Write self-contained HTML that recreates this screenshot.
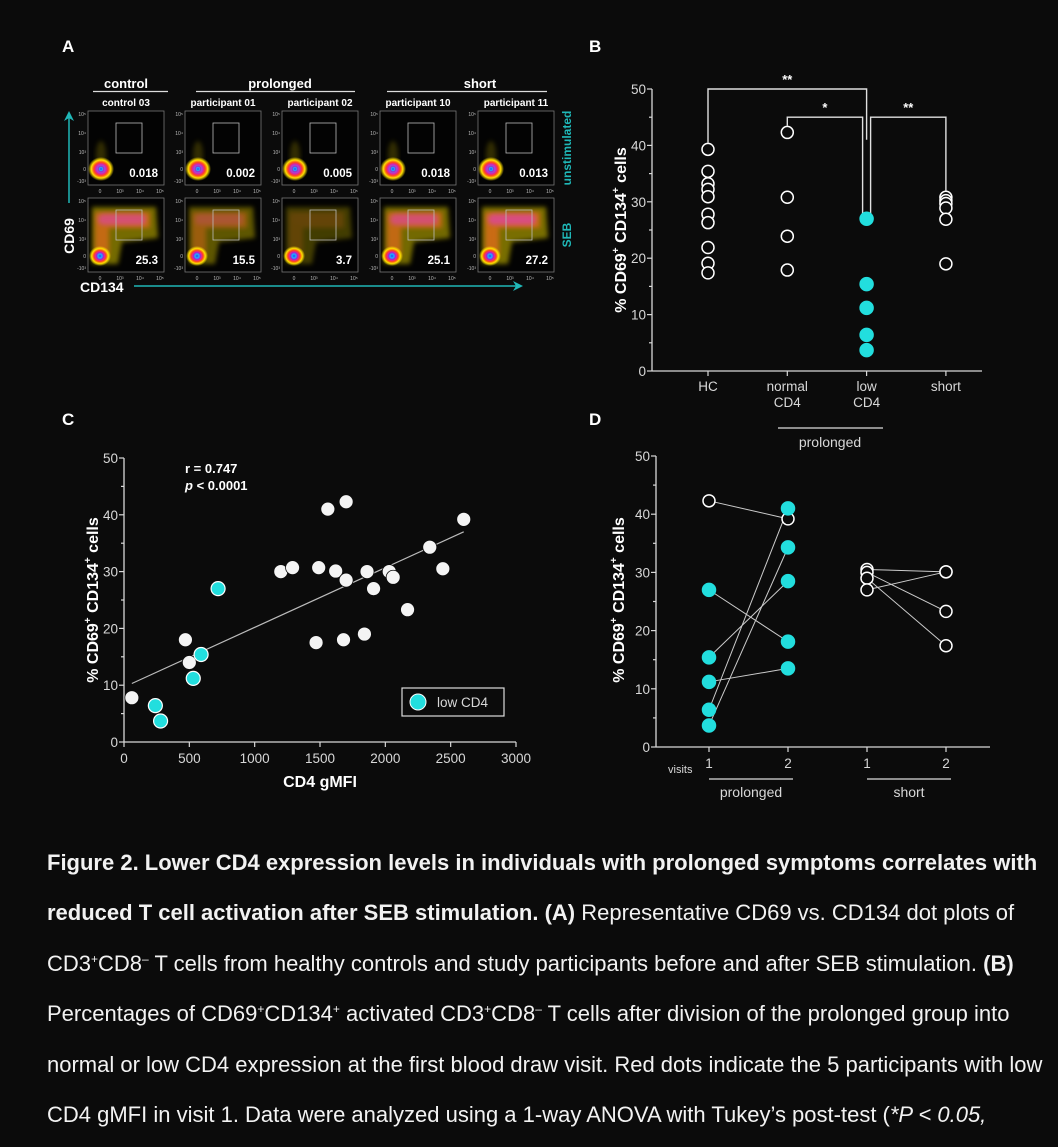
<!DOCTYPE html>
<html><head><meta charset="utf-8">
<style>
html,body{margin:0;padding:0;background:#0b0b0b;}
body{width:1058px;height:1147px;position:relative;overflow:hidden;font-family:"Liberation Sans",Arial,sans-serif;color:#fff;}
svg{position:absolute;left:0;top:0;}
.cap{position:absolute;left:47px;white-space:nowrap;font-size:22px;color:#f2f2f2;line-height:1;}
.cap b{font-weight:bold;}
sup{font-size:12px;vertical-align:8px;line-height:0;}
</style></head>
<body>
<svg id="fig" width="1058" height="840" viewBox="0 0 1058 840">
<defs>
<radialGradient id="blobG"><stop offset="0" stop-color="#3030ff"/><stop offset="0.2" stop-color="#40a0ff"/><stop offset="0.38" stop-color="#d020c0"/><stop offset="0.55" stop-color="#ff4020"/><stop offset="0.75" stop-color="#ffe000"/><stop offset="1" stop-color="#ffe000" stop-opacity="0"/></radialGradient>
<radialGradient id="coreG"><stop offset="0" stop-color="#2040ff"/><stop offset="0.4" stop-color="#20b0ff"/><stop offset="0.7" stop-color="#a020d0"/><stop offset="1" stop-color="#ff3060" stop-opacity="0"/></radialGradient>
<filter id="bl" x="-30%" y="-30%" width="160%" height="160%"><feGaussianBlur stdDeviation="2.5"/></filter>
<marker id="arr" markerWidth="10" markerHeight="10" refX="8" refY="5" orient="auto" markerUnits="userSpaceOnUse"><path d="M0,0 L10,5 L0,10 L3,5 Z" fill="#20b8b8"/></marker>
</defs>
<g id="panelA"></g>
<g id="panelB"></g>
<g id="panelC"></g>
<g id="panelD"></g>
</svg>

<div class="cap" style="top:852px"><b>Figure 2. Lower CD4 expression levels in individuals with prolonged symptoms correlates with</b></div>
<div class="cap" style="top:902px"><b>reduced T cell activation after SEB stimulation. (A)</b> Representative CD69 vs. CD134 dot plots of</div>
<div class="cap" style="top:953px">CD3<sup>+</sup>CD8<sup>–</sup> T cells from healthy controls and study participants before and after SEB stimulation. <b>(B)</b></div>
<div class="cap" style="top:1003px">Percentages of CD69<sup>+</sup>CD134<sup>+</sup> activated CD3<sup>+</sup>CD8<sup>–</sup> T cells after division of the prolonged group into</div>
<div class="cap" style="top:1054px">normal or low CD4 expression at the first blood draw visit. Red dots indicate the 5 participants with low</div>
<div class="cap" style="top:1104px">CD4 gMFI in visit 1. Data were analyzed using a 1-way ANOVA with Tukey’s post-test (<i>*P &lt; 0.05,</i></div>

<script>
// ---------- data ----------
const facsGroups = ['control','prolonged','short'];
const facsSamples = ['control 03','participant 01','participant 02','participant 10','participant 11'];
const facsUnstim = ['0.018','0.002','0.005','0.018','0.013'];
const facsSEB = ['25.3','15.5','3.7','25.1','27.2'];
const facsActivation = [25.3,15.5,3.7,25.1,27.2];

const bCategories = ['HC','normal CD4','low CD4','short'];
const bHC = [39.3,35.4,33.2,32.2,30.9,27.8,26.3,21.9,19.1,17.4];
const bNormal = [42.3,30.8,23.9,17.9];
const bLow = [27.0,15.4,11.2,6.4,3.7];
const bShort = [30.8,30.2,29.7,28.9,26.9,19.0];
const yTicks = [0,10,20,30,40,50];

const cWhiteX = [60,470,500,1200,1290,1490,1560,1620,1700,1700,1470,1680,1840,1860,1910,2030,2060,2170,2340,2440,2600];
const cWhiteY = [7.8,18,14,30,30.7,30.7,41,30.1,42.3,28.5,17.5,18,19,30,27,30,29,23.3,34.3,30.5,39.2];
const cLowX = [240,280,530,590,720];
const cLowY = [6.4,3.7,11.2,15.4,27];
const cFitX = [60,2600];
const cFitY = [10.3,37.0];
const cXTicks = [0,500,1000,1500,2000,2500,3000];

const dProlV1 = [42.3,27.0,15.4,11.2,6.4,3.7];
const dProlV2 = [39.2,18.1,28.5,13.5,41.0,34.3];
const dProlLow = [false,true,true,true,true,true];
const dProlV2Low = [false,true,true,true,true,true];
const dShortV1 = [30.5,30.0,29.0,27.0];
const dShortV2 = [30.1,23.3,17.4,30.1];

const NS='http://www.w3.org/2000/svg';
function mk(parent,tag,attrs,text){const e=document.createElementNS(NS,tag);for(const k in attrs)e.setAttribute(k,attrs[k]);if(text!==undefined)e.textContent=text;parent.appendChild(e);return e;}
const CY='#22dede', GR='#d8d8d8';

// ---------- Panel A ----------
(function(){
const g=document.getElementById('panelA');
let t=mk(g,'text',{x:62,y:52,'font-size':17,'font-weight':'bold',fill:'#fff'},'A');

const groupSpan=[[93,168,126],[196,355,280],[387,547,480]];
facsGroups.forEach((n,i)=>{
 const s=groupSpan[i];
 let tx=mk(g,'text',{x:s[2],y:88,'font-size':13,'font-weight':'bold',fill:'#fff','text-anchor':'middle'},n);
 
 let ln=mk(g,'line',{x1:s[0],x2:s[1],y1:91.5,y2:91.5,stroke:'#ddd','stroke-width':1.3});
 
});
const lefts=[88,185,282,380,478];
facsSamples.forEach((n,i)=>{
 const L=lefts[i];
 let st=mk(g,'text',{x:L+38,y:106,'font-size':10,'font-weight':'bold',fill:'#fff','text-anchor':'middle'},n);
 
 [111,198].forEach((T,r)=>{
  const pg=mk(g,'g',{});
  
  mk(pg,'rect',{x:L,y:T,width:76,height:74,fill:'#030303',stroke:'#777','stroke-width':0.8});
  const a=facsActivation[i]/27.2;
  if(r===1){
   mk(pg,'path',{d:`M${L+4},${T+66} L${L+4},${T+9} L${L+68},${T+9} L${L+70},${T+40} L${L+34},${T+44} L${L+30},${T+66} Z`,fill:'#b8a800',opacity:(0.3+0.35*a).toFixed(2),filter:'url(#bl)'});
   mk(pg,'path',{d:`M${L+7},${T+58} L${L+7},${T+14} L${L+62},${T+14} L${L+62},${T+30} L${L+21},${T+30} L${L+21},${T+58} Z`,fill:'#ff6a20',opacity:(0.1+0.5*a).toFixed(2),filter:'url(#bl)'});
   mk(pg,'rect',{x:L+10,y:T+16,width:48,height:11,rx:5,fill:'#e040b0',opacity:(0.7*a*a).toFixed(2),filter:'url(#bl)'});
   mk(pg,'ellipse',{cx:L+12,cy:T+58,rx:11,ry:10,fill:'url(#blobG)'});
   mk(pg,'circle',{cx:L+12,cy:T+58,r:5,fill:'url(#coreG)'});
  } else {
   mk(pg,'ellipse',{cx:L+13,cy:T+44,rx:5,ry:14,fill:'#a09000',opacity:0.3,filter:'url(#bl)'});
   mk(pg,'ellipse',{cx:L+13,cy:T+58,rx:13,ry:12,fill:'url(#blobG)'});
   mk(pg,'circle',{cx:L+13,cy:T+58,r:4,fill:'url(#coreG)'});
  }
  mk(pg,'rect',{x:L+28,y:T+12,width:26,height:30,fill:'none',stroke:'#bbb','stroke-width':0.8});
  let v=mk(pg,'text',{x:L+70,y:T+66,'font-size':11.5,'font-weight':'bold',fill:'#fff','text-anchor':'end'},r?facsSEB[i]:facsUnstim[i]);
  
  ['0','10³','10⁴','10⁵'].forEach((s,k)=>mk(pg,'text',{x:L+12+k*20,y:T+82,'font-size':5,fill:'#bbb','text-anchor':'middle'},s));
  ['10⁵','10⁴','10³','0','-10³'].forEach((s,k)=>mk(pg,'text',{x:L-2,y:[T+5,T+24,T+43,T+60,T+72][k],'font-size':5,fill:'#bbb','text-anchor':'end'},s));
 });
});
let u=mk(g,'text',{x:0,y:0,'font-size':12,'font-weight':'bold',fill:'#1fb8b8','text-anchor':'middle',transform:'translate(571,148) rotate(-90)'},'unstimulated');

let s2=mk(g,'text',{x:0,y:0,'font-size':12,'font-weight':'bold',fill:'#1fb8b8','text-anchor':'middle',transform:'translate(571,235) rotate(-90)'},'SEB');

let c69=mk(g,'text',{x:0,y:0,'font-size':14,'font-weight':'bold',fill:'#fff','text-anchor':'middle',transform:'translate(74,236) rotate(-90)'},'CD69');

let c134=mk(g,'text',{x:80,y:292,'font-size':14,'font-weight':'bold',fill:'#fff'},'CD134');

let av=mk(g,'line',{x1:69,y1:203,x2:69,y2:113,stroke:'#20b8b8','stroke-width':1.5,'marker-end':'url(#arr)'});

let ah=mk(g,'line',{x1:134,y1:286,x2:521,y2:286,stroke:'#20b8b8','stroke-width':1.5,'marker-end':'url(#arr)'});

})();

// ---------- generic y axis ----------
function yAxis(g,x0,xEnd,yS,name){
 let ax=mk(g,'line',{x1:x0,x2:x0,y1:yS(50),y2:yS(0),stroke:GR,'stroke-width':1.3});
 
 let xa=mk(g,'line',{x1:x0,x2:xEnd,y1:yS(0),y2:yS(0),stroke:GR,'stroke-width':1.3});
 
 for(let v=0;v<=50;v+=5){mk(g,'line',{x1:x0-(v%10?3:5),x2:x0,y1:yS(v),y2:yS(v),stroke:GR,'stroke-width':1.2});}
 yTicks.forEach(v=>{let t=mk(g,'text',{x:x0-6,y:yS(v)+5,'font-size':13.5,fill:GR,'text-anchor':'end'},String(v));
  });
}
function yTitle(g,x,y,name){
 let t=mk(g,'text',{x:0,y:0,'font-size':16,'font-weight':'bold',fill:'#fff','text-anchor':'middle',transform:`translate(${x},${y}) rotate(-90)`});
 t.innerHTML='% CD69<tspan font-size="10" dy="-7">+</tspan><tspan dy="7"> CD134</tspan><tspan font-size="10" dy="-7">+</tspan><tspan dy="7"> cells</tspan>';
 
}

// ---------- Panel B ----------
(function(){
const g=document.getElementById('panelB');
let lb=mk(g,'text',{x:589,y:52,'font-size':17,'font-weight':'bold',fill:'#fff'},'B');

const yS=v=>371-v*(282/50);
const xS=i=>708+i*79.3;
yAxis(g,652,982,yS,'panel-b');
yTitle(g,626,230,'panel-b');
bCategories.forEach((c,i)=>{
 mk(g,'line',{x1:xS(i),x2:xS(i),y1:yS(0),y2:yS(0)+5,stroke:GR,'stroke-width':1.2});
 const parts=c.split(' ');
 parts.forEach((p,k)=>{let t=mk(g,'text',{x:xS(i),y:391+k*16,'font-size':13.5,fill:GR,'text-anchor':'middle'},p);
  });
});
const br=[[0,2,50,40.5,41,'**'],[1,2,45,43.5,27.6,'*'],[2,3,45,27.6,32,'**']];
br.forEach((b,k)=>{
 const xa=xS(b[0])+(k===2?4:0), xb=xS(b[1])-(k===1?4:0);
 let p=mk(g,'path',{d:`M${xa},${yS(b[3])} L${xa},${yS(b[2])} L${xb},${yS(b[2])} L${xb},${yS(b[4])}`,fill:'none',stroke:'#e0e0e0','stroke-width':1.4});
 
 let t=mk(g,'text',{x:(xa+xb)/2,y:yS(b[2])-5,'font-size':13,'font-weight':'bold',fill:'#fff','text-anchor':'middle'},b[5]);
 
});
[[bHC,0,false],[bNormal,1,false],[bLow,2,true],[bShort,3,false]].forEach(s=>{
 s[0].forEach(v=>{let c=mk(g,'circle',{cx:xS(s[1]),cy:yS(v),r:s[2]?6.5:6,fill:s[2]?CY:'#0b0b0b',stroke:s[2]?CY:'#fff','stroke-width':1.5});
  });
});
let pl=mk(g,'line',{x1:778,x2:883,y1:428,y2:428,stroke:'#ddd','stroke-width':1.3});

let pt=mk(g,'text',{x:830,y:447,'font-size':14,fill:GR,'text-anchor':'middle'},'prolonged');

})();

// ---------- Panel C ----------
(function(){
const g=document.getElementById('panelC');
let lb=mk(g,'text',{x:62,y:425,'font-size':17,'font-weight':'bold',fill:'#fff'},'C');

const yS=v=>742-v*(284/50);
const xS=v=>124+v*(392/3000);
yAxis(g,124,516,yS,'panel-c');
yTitle(g,98,600,'panel-c');
cXTicks.forEach(v=>{mk(g,'line',{x1:xS(v),x2:xS(v),y1:742,y2:747,stroke:GR,'stroke-width':1.2});
 let t=mk(g,'text',{x:xS(v),y:763,'font-size':13.5,fill:GR,'text-anchor':'middle'},String(v));
 });
let xt=mk(g,'text',{x:320,y:787,'font-size':16,'font-weight':'bold',fill:'#fff','text-anchor':'middle'},'CD4 gMFI');

let fl=mk(g,'line',{x1:xS(cFitX[0]),y1:yS(cFitY[0]),x2:xS(cFitX[1]),y2:yS(cFitY[1]),stroke:'#bbb','stroke-width':1.2});

cWhiteX.forEach((x,i)=>{let c=mk(g,'circle',{cx:xS(x),cy:yS(cWhiteY[i]),r:7,fill:'#f4f4f4',stroke:'#0b0b0b','stroke-width':0.8});
 });
cLowX.forEach((x,i)=>{let c=mk(g,'circle',{cx:xS(x),cy:yS(cLowY[i]),r:7,fill:CY,stroke:'#fff','stroke-width':1.2});
 });
let r1=mk(g,'text',{x:185,y:473,'font-size':13,'font-weight':'bold',fill:'#fff'},'r = 0.747');

let r2=mk(g,'text',{x:185,y:490,'font-size':13,'font-weight':'bold',fill:'#fff'});
r2.innerHTML='<tspan font-style="italic">p</tspan> &lt; 0.0001';

const lg=mk(g,'g',{});

mk(lg,'rect',{x:402,y:688,width:102,height:28,fill:'none',stroke:'#ddd','stroke-width':1.2});
mk(lg,'circle',{cx:418,cy:702,r:8,fill:CY,stroke:'#fff','stroke-width':1});
let lt=mk(lg,'text',{x:437,y:707,'font-size':13.5,fill:GR},'low CD4');

})();

// ---------- Panel D ----------
(function(){
const g=document.getElementById('panelD');
let lb=mk(g,'text',{x:589,y:425,'font-size':17,'font-weight':'bold',fill:'#fff'},'D');

const yS=v=>747-v*(291/50);
const xPos=[709,788,867,946];
yAxis(g,656,990,yS,'panel-d');
yTitle(g,624,600,'panel-d');
['1','2','1','2'].forEach((s,i)=>{mk(g,'line',{x1:xPos[i],x2:xPos[i],y1:747,y2:752,stroke:GR,'stroke-width':1.2});
 let t=mk(g,'text',{x:xPos[i],y:768,'font-size':13.5,fill:GR,'text-anchor':'middle'},s);
 });
let vt=mk(g,'text',{x:668,y:773,'font-size':11,fill:GR},'visits');

[[709,793,751,'prolonged'],[867,951,909,'short']].forEach(s=>{
 let l=mk(g,'line',{x1:s[0],x2:s[1],y1:779,y2:779,stroke:'#ddd','stroke-width':1.3});
 
 let t=mk(g,'text',{x:s[2],y:797,'font-size':14,fill:GR,'text-anchor':'middle'},s[3]);
 
});
dProlV1.forEach((v,i)=>{let l=mk(g,'line',{x1:xPos[0],y1:yS(v),x2:xPos[1],y2:yS(dProlV2[i]),stroke:'#ccc','stroke-width':1});
 });
dShortV1.forEach((v,i)=>{let l=mk(g,'line',{x1:xPos[2],y1:yS(v),x2:xPos[3],y2:yS(dShortV2[i]),stroke:'#ccc','stroke-width':1});
 });
function pt(x,v,low){let c=mk(g,'circle',{cx:x,cy:yS(v),r:low?6.5:6,fill:low?CY:'#0b0b0b',stroke:low?CY:'#fff','stroke-width':1.5});
 }
dProlV1.forEach((v,i)=>pt(xPos[0],v,dProlLow[i]));
dProlV2.forEach((v,i)=>pt(xPos[1],v,dProlV2Low[i]));
dShortV1.forEach(v=>pt(xPos[2],v,false));
dShortV2.forEach(v=>pt(xPos[3],v,false));
})();
</script>
</body></html>
